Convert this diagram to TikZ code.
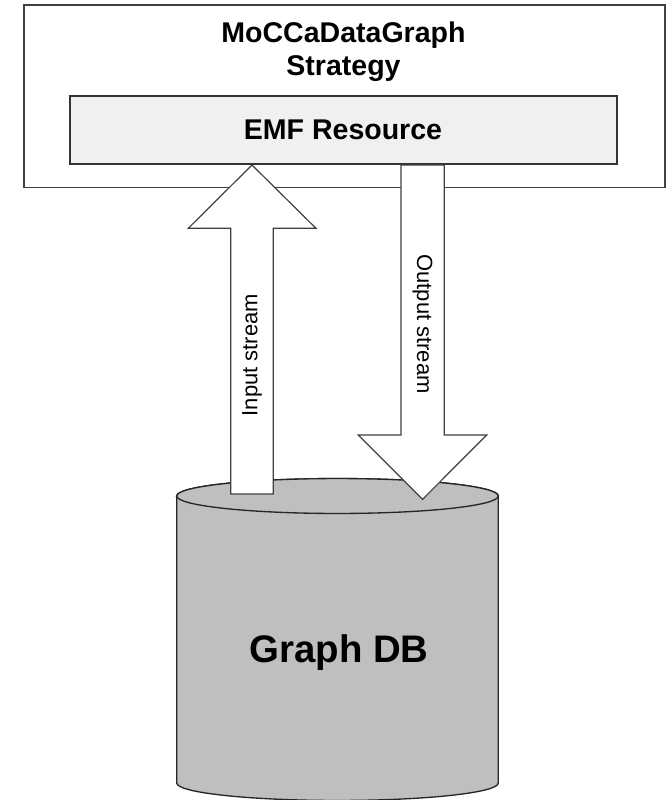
\documentclass[tikz,border=0pt]{standalone}
\usepackage{fontspec}
\setmainfont{Liberation Sans}
\begin{document}
\begin{tikzpicture}[x=0.75pt,y=-0.75pt,
  outerbox/.style={draw=black!75, line width=1pt, fill=white, inner sep=0pt},
  innerbox/.style={draw=black!80, line width=1pt, fill=black!6, inner sep=0pt},
  blockarrow/.style={draw=black!75, line width=0.9pt, fill=white, line join=miter},
  dbshape/.style={draw=black!85, line width=1pt, fill=black!25},
  titletext/.style={font=\fontsize{21.4pt}{25pt}\selectfont\bfseries, align=center, inner sep=0pt},
  streamtext/.style={font=\fontsize{16.5pt}{19pt}\selectfont, inner sep=0pt},
  dbtext/.style={font=\fontsize{28.8pt}{32pt}\selectfont\bfseries, inner sep=0pt}]
\useasboundingbox (0,0) rectangle (668,800);
\fill[white] (0,0) rectangle (668,800);

% outer strategy box
\node[outerbox, minimum width=480.75pt, minimum height=137pt] (strategy) at (344.5,96.3) {};
\node[titletext] (title) at (343.5,51.8) {MoCCaDataGraph\\Strategy};

% EMF resource box
\node[innerbox, minimum width=410.25pt, minimum height=51pt] (emf) at (343.5,130) {};
\node[titletext] (emftext) at (343,129.5) {EMF Resource};

% Graph DB cylinder
\path[dbshape] (176.7,496) -- (176.7,783)
  arc[start angle=180, end angle=360, x radius=120.6pt, y radius=13.1pt]
  -- (498.3,496)
  arc[start angle=0, end angle=180, x radius=120.6pt, y radius=13.1pt] -- cycle;
\draw[dbshape] (337.5,496) ellipse [x radius=120.6pt, y radius=13.1pt];
\node[dbtext] (db) at (339,653) {Graph DB};

% input stream arrow (up)
\coordinate (intip) at (252,165);
\draw[blockarrow] (intip) -- (316,228.3) -- (273.3,228.3) -- (273.3,494)
  -- (230.7,494) -- (230.7,228.3) -- (188.3,228.3) -- cycle;
\node[streamtext, rotate=90] (instream) at (252,355) {Input stream};

% output stream arrow (down)
\coordinate (outtip) at (422.6,499.3);
\draw[blockarrow] (401,165) -- (444.3,165) -- (444.3,435) -- (486.7,435)
  -- (outtip) -- (358.3,435) -- (401,435) -- cycle;
\node[streamtext, rotate=-90] (outstream) at (422.6,324) {Output stream};
\end{tikzpicture}
\end{document}
